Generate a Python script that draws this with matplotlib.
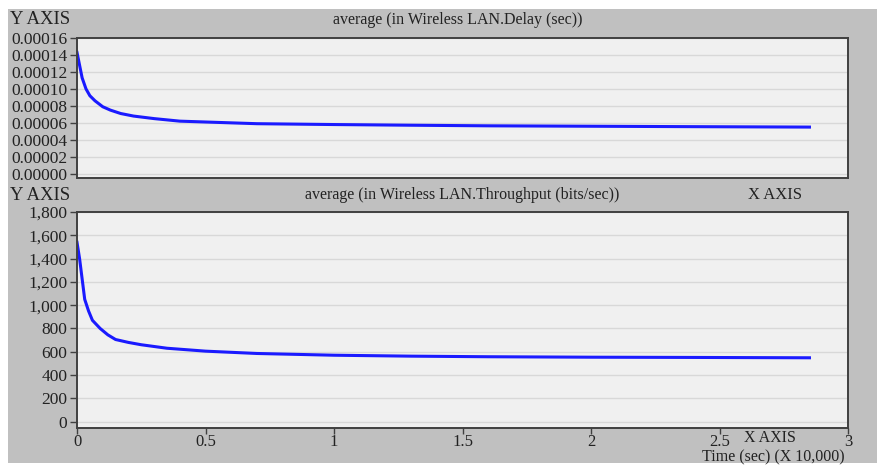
import matplotlib
matplotlib.use('Agg')
import matplotlib.pyplot as plt
from matplotlib.patches import Rectangle
from matplotlib.ticker import FuncFormatter, MultipleLocator

# time in units of 10,000 sec
delay_t = [0.0, 0.01, 0.02, 0.035, 0.05, 0.07, 0.1, 0.13, 0.17, 0.22, 0.3, 0.4, 0.5,
           0.7, 1.0, 1.3, 1.6, 2.0, 2.4, 2.85]
delay_v = [0.000143, 0.000128, 0.000113, 0.000100, 0.000092, 0.000086, 0.000079,
           0.000075, 0.000071, 0.000068, 0.000065, 0.000062, 0.000061,
           0.000059, 0.000058, 0.0000572, 0.0000565, 0.000056, 0.0000555, 0.000055]

thr_t = [0.0, 0.01, 0.03, 0.045, 0.06, 0.09, 0.12, 0.15, 0.2, 0.25, 0.35, 0.5,
         0.7, 1.0, 1.3, 1.6, 2.0, 2.4, 2.85]
thr_v = [1540, 1400, 1050, 950, 870, 800, 745, 705, 680, 660, 630, 605,
         585, 570, 562, 557, 553, 551, 548]

title_top = 'average (in Wireless LAN.Delay (sec))'
title_bot = 'average (in Wireless LAN.Throughput (bits/sec))'

plt.rcParams['font.family'] = ['Liberation Serif', 'DejaVu Serif']
plt.rcParams['font.size'] = 12
plt.rcParams['text.color'] = '#222222'

W, H = 880, 465
fig = plt.figure(figsize=(W / 100, H / 100), dpi=100, facecolor='white')
fig.patches.append(Rectangle((8 / W, 1 - 463 / H), 869 / W, 454 / H,
                             transform=fig.transFigure, facecolor='#c0c0c0',
                             edgecolor='none', zorder=-5))

line_col = '#1a1aff'
spine_col = '#404040'


def style(ax):
    ax.set_zorder(2)
    ax.set_facecolor('#f0f0f0')
    for s in ax.spines.values():
        s.set_color(spine_col)
        s.set_linewidth(1.4)
    ax.grid(axis='y', color='#d8d8d8', linewidth=1.0)
    ax.set_axisbelow(True)
    ax.tick_params(direction='out', length=5, width=1, color=spine_col,
                   labelcolor='#222222', labelsize=12.5, pad=2)
    ax.set_xlim(0, 3)
    ax.xaxis.set_major_locator(MultipleLocator(0.5))


ax1 = fig.add_axes([77 / W, 1 - 178 / H, 771 / W, 140 / H])
style(ax1)
ax1.plot(delay_t, delay_v, color=line_col, linewidth=2.2)
ax1.set_ylim(-0.000005, 0.00016)
ax1.yaxis.set_major_locator(MultipleLocator(0.00002))
ax1.yaxis.set_major_formatter(FuncFormatter(lambda v, p: f'{v:.5f}'))
ax1.tick_params(axis='x', length=0, labelbottom=False)

ax2 = fig.add_axes([77 / W, 1 - 428 / H, 771 / W, 216 / H])
style(ax2)
ax2.plot(thr_t, thr_v, color=line_col, linewidth=2.2)
ax2.set_ylim(-55, 1800)
ax2.yaxis.set_major_locator(MultipleLocator(200))
ax2.yaxis.set_major_formatter(FuncFormatter(lambda v, p: f'{v:,.0f}'))
ax2.xaxis.set_major_formatter(FuncFormatter(lambda v, p: f'{v:g}'))
ax2.tick_params(axis='x', length=4, pad=0, labelsize=12)

fig.text(10 / W, 1 - 20 / H, 'Y AXIS', fontsize=13.5, va='center', ha='left')
fig.text(458 / W, 1 - 20 / H, title_top, fontsize=11.5, va='center', ha='center')
fig.text(10 / W, 1 - 195 / H, 'Y AXIS', fontsize=13.5, va='center', ha='left')
fig.text(462 / W, 1 - 195 / H, title_bot, fontsize=11.5, va='center', ha='center')
fig.text(775 / W, 1 - 195 / H, 'X AXIS', fontsize=12, va='center', ha='center')
fig.text(770 / W, 1 - 438 / H, 'X AXIS', fontsize=11.5, va='center', ha='center')
fig.text(845 / W, 1 - 457.5 / H, 'Time (sec) (X 10,000)', fontsize=11.5,
         va='center', ha='right')

fig.savefig('out.png', dpi=100, facecolor='white')
